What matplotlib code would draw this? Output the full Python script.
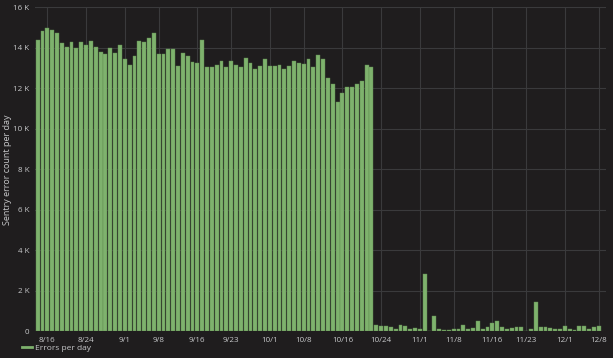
import numpy as np
import matplotlib
matplotlib.use("Agg")
import matplotlib.pyplot as plt
from matplotlib.lines import Line2D

start_date = "2018-08-14"
errors_k = [
    14.38, 14.83, 14.99, 14.88, 14.72, 14.24, 14.04, 14.29, 13.99, 14.27,
    14.15, 14.35, 14.04, 13.79, 13.68, 13.99, 13.73, 14.15, 13.43, 13.15,
    13.61, 14.32, 14.30, 14.50, 14.73, 13.71, 13.68, 13.96, 13.93, 13.10,
    13.74, 13.60, 13.31, 13.23, 14.38, 13.04, 13.04, 13.17, 13.35, 13.05,
    13.33, 13.17, 13.05, 13.50, 13.25, 12.95, 13.10, 13.43, 13.08, 13.10,
    13.15, 12.95, 13.12, 13.35, 13.27, 13.20, 13.45, 13.05, 13.66, 13.45,
    12.51, 12.20, 11.32, 11.77, 12.06, 12.06, 12.21, 12.36, 13.17, 13.04,
    0.33, 0.25, 0.25, 0.20, 0.10, 0.30, 0.27, 0.13, 0.16, 0.12,
    2.81, 0.02, 0.76, 0.13, 0.05, 0.05, 0.13, 0.13, 0.30, 0.13,
    0.15, 0.51, 0.10, 0.23, 0.41, 0.49, 0.20, 0.13, 0.16, 0.20,
    0.20, 0.03, 0.13, 1.43, 0.20, 0.20, 0.16, 0.13, 0.10, 0.25,
    0.12, 0.05, 0.27, 0.27, 0.10, 0.20, 0.27,
]
x_tick_labels = ["8/16", "8/24", "9/1", "9/8", "9/16", "9/23", "10/1", "10/8",
                 "10/16", "10/24", "11/1", "11/8", "11/16", "11/23", "12/1", "12/8"]
y_ticks_k = [0, 2, 4, 6, 8, 10, 12, 14, 16]
series_name = "Errors per day"
y_label = "Sentry error count per day"

bg = "#1f1d1e"
grid_c = "#3a3a3c"
text_c = "#c7c8ca"
bar_c = "#7eb26d"

plt.rcParams['font.family'] = ['Open Sans', 'DejaVu Sans']

fig = plt.figure(figsize=(6.13, 3.58), dpi=100, facecolor=bg)
ax = fig.add_axes([35 / 613, (358 - 331.3) / 358, 571 / 613, (331.3 - 7.3) / 358])
ax.set_facecolor(bg)

start = np.datetime64(start_date)
days = np.arange(len(errors_k))
values = np.array(errors_k) * 1000
ax.bar(days, values, width=0.8, color=bar_c, edgecolor="#5f8a50", linewidth=0.3, zorder=3)

tick_pos = []
for lab in x_tick_labels:
    m, d = lab.split("/")
    dt = np.datetime64(f"2018-{int(m):02d}-{int(d):02d}")
    tick_pos.append((dt - start).astype(int))
ax.set_xticks(tick_pos)
ax.set_xticklabels(x_tick_labels)
ax.set_xlim(-0.56, 117.5)

ax.set_ylim(0, 16000)
ax.set_yticks([v * 1000 for v in y_ticks_k])
ax.set_yticklabels(["0" if v == 0 else f"{v} K" for v in y_ticks_k])

ax.grid(True, color=grid_c, linewidth=0.8, zorder=0)
for s in ax.spines.values():
    s.set_visible(False)
ax.tick_params(colors=text_c, labelsize=5.8, length=0, pad=4)
for lbl in ax.get_xticklabels() + ax.get_yticklabels():
    lbl.set_color(text_c)

fig.text(8 / 613, 1 - 170 / 358, y_label, rotation=90, color=text_c,
         fontsize=6.5, ha="center", va="center")

handle = Line2D([0], [0], color=bar_c, linewidth=2)
leg = fig.legend([handle], [series_name], loc="lower left",
                 bbox_to_anchor=(14 / 613, -1 / 358), frameon=False,
                 fontsize=6, handlelength=1.2, handletextpad=0.4)
for t in leg.get_texts():
    t.set_color(text_c)

fig.savefig("out.png", dpi=100, facecolor=bg)
